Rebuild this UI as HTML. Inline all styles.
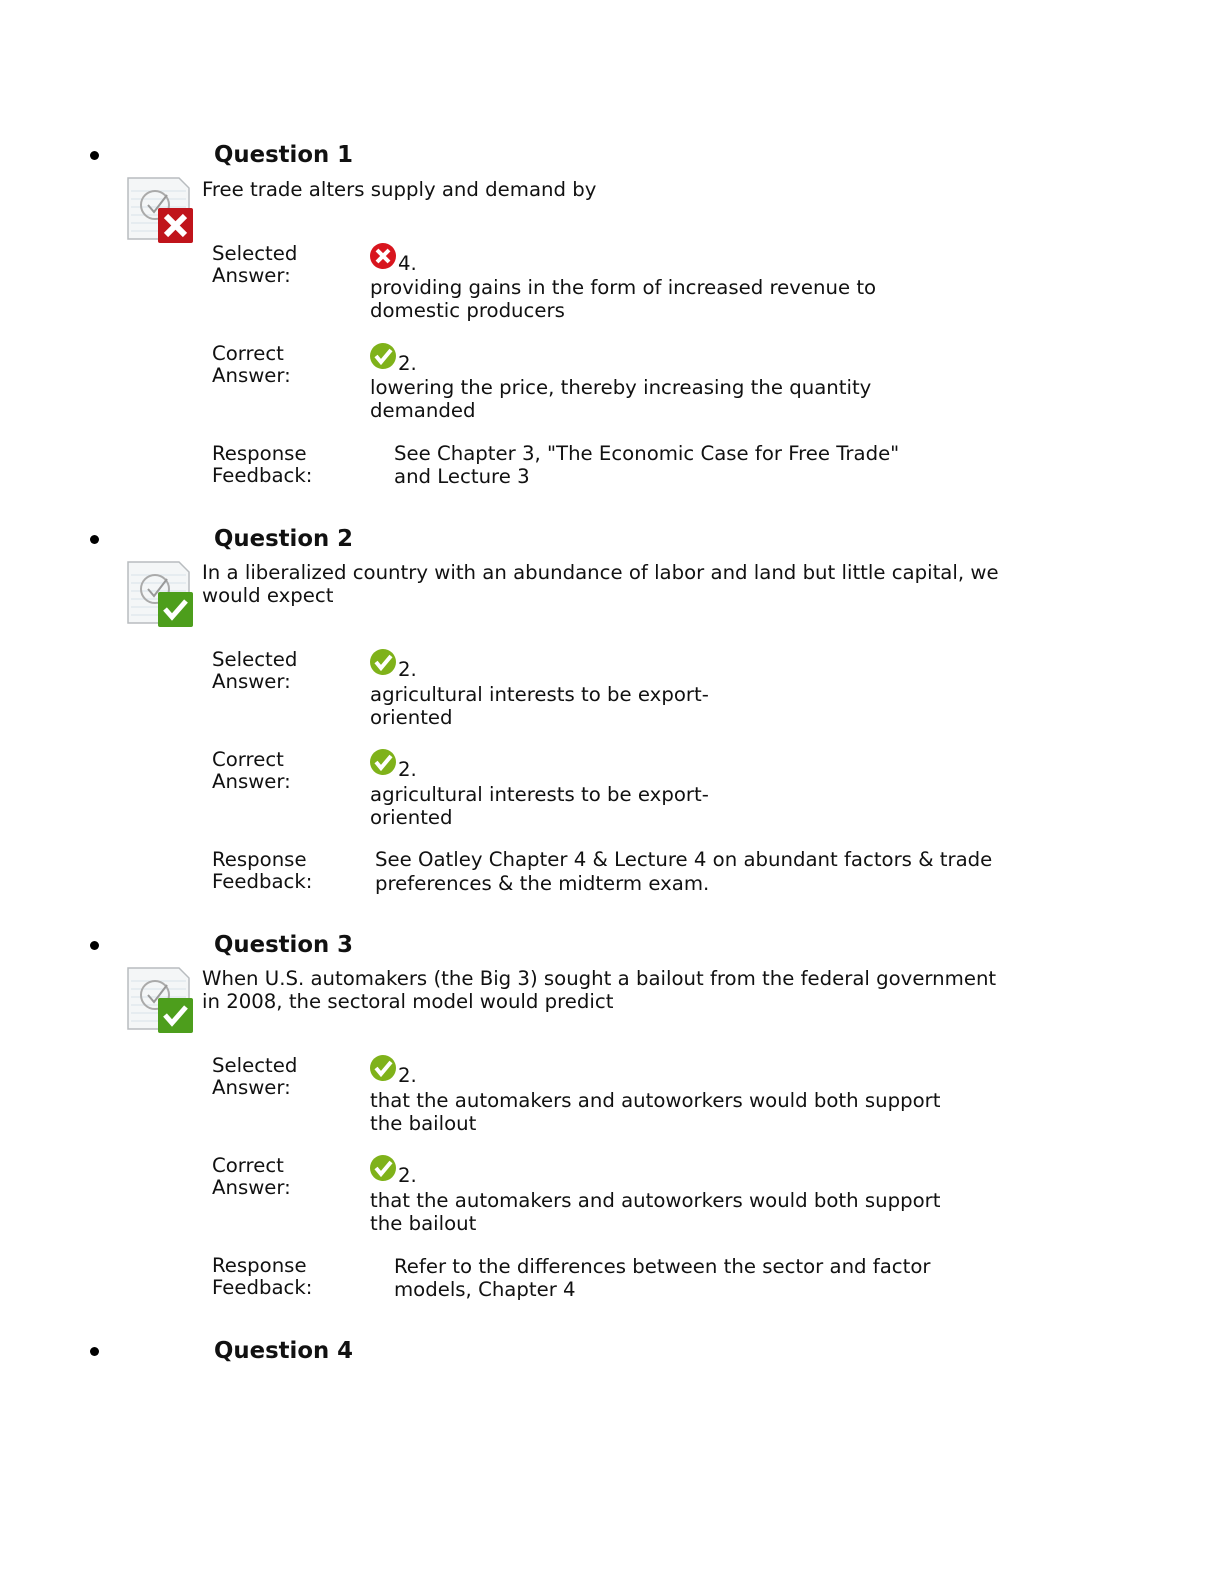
<!DOCTYPE html>
<html><head><meta charset="utf-8"><style>
body{margin:0;width:1224px;height:1584px;background:#fff;position:relative;font-family:"DejaVu Sans","Liberation Sans",sans-serif;color:#111;}
.t{position:absolute;font-size:19.7px;line-height:23px;white-space:nowrap;}
.h{position:absolute;font-size:22.8px;line-height:26px;font-weight:bold;white-space:nowrap;}
.b{position:absolute;width:9px;height:9px;border-radius:50%;background:#000;}
svg{position:absolute;}
</style></head><body>
<svg width="0" height="0" style="position:absolute">
<defs>
<g id="paper"><path d="M1 1 H52 L62 11 V62 H1 Z" fill="#f4f6f7" stroke="#b8bcbf" stroke-width="1.5"/>
<g stroke="#d8e2ea" stroke-width="1"><line x1="4" y1="14" x2="59" y2="14"/><line x1="4" y1="22" x2="59" y2="22"/><line x1="4" y1="30" x2="59" y2="30"/><line x1="4" y1="38" x2="59" y2="38"/><line x1="4" y1="46" x2="59" y2="46"/><line x1="4" y1="54" x2="59" y2="54"/></g>
<circle cx="28" cy="28" r="14" fill="none" stroke="#aaa" stroke-width="2"/><path d="M21 28 L27 35 L40 18" fill="none" stroke="#999" stroke-width="2"/></g>
</defs></svg>

<div class="b" style="left:90px;top:151px"></div>
<div class="h" style="left:214px;top:142px">Question 1</div>
<svg style="left:127px;top:177px" width="68" height="68"><use href="#paper"/><rect x="31" y="31" width="35" height="35" rx="2" fill="#c0141b"/><path d="M39 39 L58 58 M58 39 L39 58" stroke="#fff" stroke-width="6"/></svg>
<div class="t" style="left:202px;top:178px">Free trade alters supply and demand by</div>
<div class="t" style="left:212px;top:242px">Selected</div><div class="t" style="left:212px;top:264px">Answer:</div>
<svg style="left:369px;top:242px" width="30" height="30"><circle cx="14" cy="14" r="13" fill="#d8151e"/><path d="M8 8 L20 20 M20 8 L8 20" stroke="#fff" stroke-width="4"/></svg>
<div class="t" style="left:398px;top:252px">4.</div>
<div class="t" style="left:370px;top:276px">providing gains in the form of increased revenue to</div>
<div class="t" style="left:370px;top:299px">domestic producers</div>
<div class="t" style="left:212px;top:342px">Correct</div><div class="t" style="left:212px;top:364px">Answer:</div>
<svg style="left:369px;top:342px" width="30" height="30"><circle cx="14" cy="14" r="13" fill="#7fb21a"/><path d="M7 14 L12 20 L22 8" fill="none" stroke="#fff" stroke-width="4"/></svg>
<div class="t" style="left:398px;top:352px">2.</div>
<div class="t" style="left:370px;top:376px">lowering the price, thereby increasing the quantity</div>
<div class="t" style="left:370px;top:399px">demanded</div>
<div class="t" style="left:212px;top:442px">Response</div><div class="t" style="left:212px;top:464px">Feedback:</div>
<div class="t" style="left:394px;top:442px">See Chapter 3, "The Economic Case for Free Trade"</div>
<div class="t" style="left:394px;top:465px">and Lecture 3</div>

<div class="b" style="left:90px;top:535px"></div>
<div class="h" style="left:214px;top:526px">Question 2</div>
<svg style="left:127px;top:561px" width="68" height="68"><use href="#paper"/><rect x="31" y="31" width="35" height="35" rx="2" fill="#4d9e1c"/><path d="M38 48 L45 56 L59 40" fill="none" stroke="#fff" stroke-width="5"/></svg>
<div class="t" style="left:202px;top:561px">In a liberalized country with an abundance of labor and land but little capital, we</div>
<div class="t" style="left:202px;top:584px">would expect</div>
<div class="t" style="left:212px;top:648px">Selected</div><div class="t" style="left:212px;top:670px">Answer:</div>
<svg style="left:369px;top:648px" width="30" height="30"><circle cx="14" cy="14" r="13" fill="#7fb21a"/><path d="M7 14 L12 20 L22 8" fill="none" stroke="#fff" stroke-width="4"/></svg>
<div class="t" style="left:398px;top:658px">2.</div>
<div class="t" style="left:370px;top:683px">agricultural interests to be export-</div>
<div class="t" style="left:370px;top:706px">oriented</div>
<div class="t" style="left:212px;top:748px">Correct</div><div class="t" style="left:212px;top:770px">Answer:</div>
<svg style="left:369px;top:748px" width="30" height="30"><circle cx="14" cy="14" r="13" fill="#7fb21a"/><path d="M7 14 L12 20 L22 8" fill="none" stroke="#fff" stroke-width="4"/></svg>
<div class="t" style="left:398px;top:758px">2.</div>
<div class="t" style="left:370px;top:783px">agricultural interests to be export-</div>
<div class="t" style="left:370px;top:806px">oriented</div>
<div class="t" style="left:212px;top:848px">Response</div><div class="t" style="left:212px;top:870px">Feedback:</div>
<div class="t" style="left:375px;top:848px">See Oatley Chapter 4 &amp; Lecture 4 on abundant factors &amp; trade</div>
<div class="t" style="left:375px;top:872px">preferences &amp; the midterm exam.</div>

<div class="b" style="left:90px;top:941px"></div>
<div class="h" style="left:214px;top:932px">Question 3</div>
<svg style="left:127px;top:967px" width="68" height="68"><use href="#paper"/><rect x="31" y="31" width="35" height="35" rx="2" fill="#4d9e1c"/><path d="M38 48 L45 56 L59 40" fill="none" stroke="#fff" stroke-width="5"/></svg>
<div class="t" style="left:202px;top:967px">When U.S. automakers (the Big 3) sought a bailout from the federal government</div>
<div class="t" style="left:202px;top:990px">in 2008, the sectoral model would predict</div>
<div class="t" style="left:212px;top:1054px">Selected</div><div class="t" style="left:212px;top:1076px">Answer:</div>
<svg style="left:369px;top:1054px" width="30" height="30"><circle cx="14" cy="14" r="13" fill="#7fb21a"/><path d="M7 14 L12 20 L22 8" fill="none" stroke="#fff" stroke-width="4"/></svg>
<div class="t" style="left:398px;top:1064px">2.</div>
<div class="t" style="left:370px;top:1089px">that the automakers and autoworkers would both support</div>
<div class="t" style="left:370px;top:1112px">the bailout</div>
<div class="t" style="left:212px;top:1154px">Correct</div><div class="t" style="left:212px;top:1176px">Answer:</div>
<svg style="left:369px;top:1154px" width="30" height="30"><circle cx="14" cy="14" r="13" fill="#7fb21a"/><path d="M7 14 L12 20 L22 8" fill="none" stroke="#fff" stroke-width="4"/></svg>
<div class="t" style="left:398px;top:1164px">2.</div>
<div class="t" style="left:370px;top:1189px">that the automakers and autoworkers would both support</div>
<div class="t" style="left:370px;top:1212px">the bailout</div>
<div class="t" style="left:212px;top:1254px">Response</div><div class="t" style="left:212px;top:1276px">Feedback:</div>
<div class="t" style="left:394px;top:1255px">Refer to the differences between the sector and factor</div>
<div class="t" style="left:394px;top:1278px">models, Chapter 4</div>

<div class="b" style="left:90px;top:1347px"></div>
<div class="h" style="left:214px;top:1338px">Question 4</div>
</body></html>
